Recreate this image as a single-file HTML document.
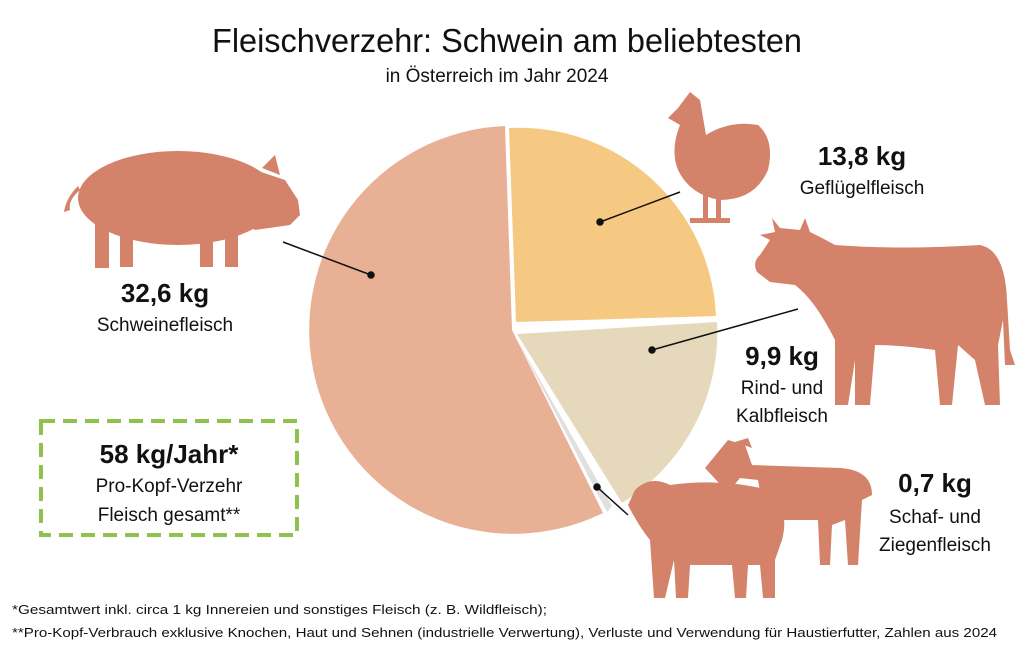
<!DOCTYPE html>
<html><head><meta charset="utf-8"><style>
body{margin:0;background:#fff}
svg text{font-family:"Liberation Sans",sans-serif;fill:#111}
</style></head><body>
<svg width="1024" height="648" viewBox="0 0 1024 648" xmlns="http://www.w3.org/2000/svg">
<text x="507" y="52" text-anchor="middle" font-size="33" textLength="590" lengthAdjust="spacingAndGlyphs">Fleischverzehr: Schwein am beliebtesten</text>
<text x="497" y="82" text-anchor="middle" font-size="19">in Österreich im Jahr 2024</text>

<g stroke="none">
<path d="M512,330 L603,513 A204,204 0 1 1 505,126 Z" fill="#e8b196"/>
<path d="M516,322 L509,128 A197,197 0 0 1 716,316 Z" fill="#f5c982"/>
<path d="M517,334 L717,322 A200,200 0 0 1 622,503 Z" fill="#e6d9bb"/>
<path d="M516,338 L612,506 A200,200 0 0 1 607,512 Z" fill="#e0e0e0"/>
</g>
<g stroke="#111" stroke-width="1.5" fill="#111">
<line x1="283" y1="242" x2="371" y2="275"/><circle cx="371" cy="275" r="3"/>
<line x1="600" y1="222" x2="680" y2="192"/><circle cx="600" cy="222" r="3"/>
<line x1="652" y1="350" x2="798" y2="309"/><circle cx="652" cy="350" r="3"/>
<line x1="597" y1="487" x2="628" y2="515"/><circle cx="597" cy="487" r="3"/>
</g>

<g fill="#d4826a">
<ellipse cx="178" cy="198" rx="100" ry="47"/>
<path d="M240,165 L285,180 L298,200 L300,215 L290,225 L255,230 L240,220 Z"/>
<path d="M262,168 L275,155 L280,175 Z"/>
<rect x="95" y="220" width="14" height="48"/><rect x="120" y="225" width="13" height="42"/>
<rect x="200" y="225" width="13" height="42"/><rect x="225" y="222" width="13" height="45"/>
<path d="M80,190 Q68,200 70,210 L64,212 Q66,198 78,186 Z"/>
<path d="M690,92 L700,100 L706,135 Q730,120 758,125 Q775,140 768,170 Q755,200 720,200 Q690,195 678,170 Q670,150 680,125 L668,118 L678,108 Z"/>
<rect x="703" y="195" width="5" height="25"/><rect x="716" y="195" width="5" height="25"/>
<rect x="690" y="218" width="40" height="5"/>
<path d="M757,272 Q752,262 760,255 L770,240 L760,235 L775,232 L772,218 L780,228 L800,230 L805,218 L810,232 L822,238 L835,245 Q900,250 980,245 Q1005,250 1007,300 L1010,350 L1015,365 L1005,365 L1003,320 L998,345 L1000,405 L985,405 L975,360 L958,345 L952,405 L940,405 L935,350 Q900,345 875,345 L870,405 L855,405 L855,360 L848,405 L835,405 L835,340 Q815,300 795,285 L770,282 Z"/>
<path d="M705,468 L728,440 L745,445 L752,465 L840,468 Q872,470 872,495 L862,500 L858,565 L848,565 L845,520 L832,525 L830,565 L820,565 L818,520 L765,520 L758,480 L740,478 L730,490 L718,482 Z"/>
<path d="M735,442 L748,438 L752,448 Z"/>
<path d="M635,490 Q650,475 670,485 Q720,478 770,490 Q790,510 782,540 L775,560 L775,598 L763,598 L760,565 L748,565 L746,598 L735,598 L732,565 L690,565 L688,598 L676,598 L674,560 L665,598 L654,598 L650,540 Q638,525 628,505 Z"/>
</g>

<text x="165" y="302" text-anchor="middle" font-size="26" font-weight="bold">32,6 kg</text>
<text x="165" y="331" text-anchor="middle" font-size="19">Schweinefleisch</text>
<text x="862" y="165" text-anchor="middle" font-size="26" font-weight="bold">13,8 kg</text>
<text x="862" y="194" text-anchor="middle" font-size="19">Geflügelfleisch</text>
<text x="782" y="365" text-anchor="middle" font-size="26" font-weight="bold">9,9 kg</text>
<text x="782" y="394" text-anchor="middle" font-size="19">Rind- und</text>
<text x="782" y="422" text-anchor="middle" font-size="19">Kalbfleisch</text>
<text x="935" y="492" text-anchor="middle" font-size="26" font-weight="bold">0,7 kg</text>
<text x="935" y="523" text-anchor="middle" font-size="19">Schaf- und</text>
<text x="935" y="551" text-anchor="middle" font-size="19">Ziegenfleisch</text>

<rect x="41" y="421" width="256" height="114" fill="none" stroke="#8dc34a" stroke-width="4" stroke-dasharray="14 8"/>
<text x="169" y="463" text-anchor="middle" font-size="26" font-weight="bold">58 kg/Jahr*</text>
<text x="169" y="492" text-anchor="middle" font-size="19">Pro-Kopf-Verzehr</text>
<text x="169" y="521" text-anchor="middle" font-size="19">Fleisch gesamt**</text>

<text x="12" y="614" font-size="13" textLength="535" lengthAdjust="spacingAndGlyphs">*Gesamtwert inkl. circa 1 kg Innereien und sonstiges Fleisch (z. B. Wildfleisch);</text>
<text x="12" y="637" font-size="13" textLength="985" lengthAdjust="spacingAndGlyphs">**Pro-Kopf-Verbrauch exklusive Knochen, Haut und Sehnen (industrielle Verwertung), Verluste und Verwendung für Haustierfutter, Zahlen aus 2024</text>
</svg>
</body></html>
